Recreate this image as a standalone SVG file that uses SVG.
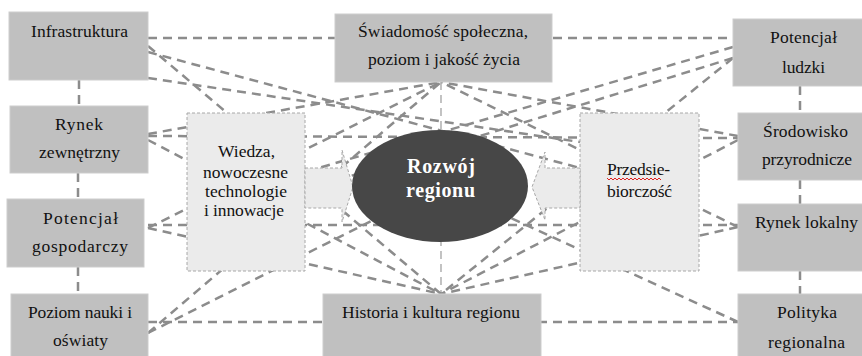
<svg xmlns="http://www.w3.org/2000/svg" width="862" height="356" viewBox="0 0 862 356">
<style>
.c{fill:none;stroke:#8c8c8c;stroke-width:2.5;stroke-dasharray:9 6}
.c2{fill:none;stroke:#b4b4b4;stroke-width:1.6;stroke-dasharray:8 5}
.box{fill:#c0c0c0;stroke:#cdcdcd;stroke-width:1}
.lb{fill:#ebebeb;stroke:#a8a8a8;stroke-width:1;stroke-dasharray:3 2}
.t{font-family:'Liberation Serif','DejaVu Serif',serif;font-size:17.5px;fill:#111;text-anchor:middle}
.w{font-family:'Liberation Serif','DejaVu Serif',serif;fill:#fff;font-weight:bold;font-size:20px;text-anchor:middle}
</style>
<rect width="862" height="356" fill="#fff"/>
<g id="connectors">
<path class="c" d="M148 38H734"/>
<path class="c" d="M148 322H738"/>
<path class="c2" d="M441 82V294"/>
<path class="c" d="M79 80V106M78 173V199M78 267V294"/>
<path class="c" d="M800 86V113M800 180V204M800 271V294"/>
<path class="c" d="M148 136L738 138"/>
<path class="c" d="M148 225L738 225"/>
<path class="c" d="M148 46L441 294"/>
<path class="c" d="M148 52L580 168"/>
<path class="c" d="M148 78L580 142"/>
<path class="c" d="M733 47L305 172"/>
<path class="c" d="M733 58L305 190"/>
<path class="c" d="M733 58L441 294"/>
<path class="c" d="M148 134L441 82"/>
<path class="c" d="M148 140L441 294"/>
<path class="c" d="M738 136L441 82"/>
<path class="c" d="M738 140L441 294"/>
<path class="c" d="M148 228L441 82"/>
<path class="c" d="M148 228L441 294"/>
<path class="c" d="M738 227L441 82"/>
<path class="c" d="M738 227L441 294"/>
<path class="c" d="M148 333L441 82"/>
<path class="c" d="M148 333L441 186"/>
<path class="c" d="M738 322L441 186"/>
</g>
<g id="infrastruktura"><rect class="box" x="9" y="12" width="139" height="68"/><text class="t" x="79.5" y="37" textLength="97">Infrastruktura</text></g>
<g id="rynek-zewnetrzny"><rect class="box" x="10" y="106" width="138" height="67"/><text class="t" x="79" y="130" textLength="48">Rynek</text><text class="t" x="79.5" y="158" textLength="81">zewnętrzny</text></g>
<g id="potencjal-gospodarczy"><rect class="box" x="7" y="199" width="137" height="68"/><text class="t" x="80.5" y="224" textLength="75">Potencjał</text><text class="t" x="80" y="252" textLength="96">gospodarczy</text></g>
<g id="poziom-nauki"><rect class="box" x="11" y="294" width="137" height="64"/><text class="t" x="80" y="318" textLength="104">Poziom nauki i</text><text class="t" x="80.5" y="346" textLength="55">oświaty</text></g>
<g id="swiadomosc"><rect class="box" x="335" y="14" width="217" height="68"/><text class="t" x="443" y="37" textLength="170">Świadomość społeczna,</text><text class="t" x="444" y="65" textLength="152">poziom i jakość życia</text></g>
<g id="historia"><rect class="box" x="323" y="294" width="218" height="64"/><text class="t" x="431" y="318" textLength="178">Historia i kultura regionu</text></g>
<g id="potencjal-ludzki"><rect class="box" x="733" y="19" width="131" height="67"/><text class="t" x="803.5" y="43" textLength="67">Potencjał</text><text class="t" x="803.5" y="73" textLength="43">ludzki</text></g>
<g id="srodowisko"><rect class="box" x="738" y="113" width="126" height="67"/><text class="t" x="805.5" y="137" textLength="85">Środowisko</text><text class="t" x="807" y="165" textLength="90">przyrodnicze</text></g>
<g id="rynek-lokalny"><rect class="box" x="738" y="204" width="126" height="67"/><text class="t" x="806.5" y="228" textLength="103">Rynek lokalny</text></g>
<g id="polityka"><rect class="box" x="738" y="294" width="126" height="64"/><text class="t" x="807" y="318" textLength="60">Polityka</text><text class="t" x="806.5" y="348" textLength="77">regionalna</text></g>
<g id="wiedza"><rect class="lb" x="187" y="113" width="118" height="158"/><text class="t" x="246.5" y="157" textLength="57">Wiedza,</text><text class="t" x="245.5" y="178" textLength="85">nowoczesne</text><text class="t" x="246" y="197" textLength="82">technologie</text><text class="t" x="244" y="216" textLength="80">i innowacje</text></g>
<g id="przedsiebiorczosc"><rect class="lb" x="580" y="113" width="119" height="158"/><text class="t" x="638.5" y="175" textLength="63">Przedsie-</text><text class="t" x="639.5" y="197" textLength="65">biorczość</text><polyline fill="none" stroke="#e02020" stroke-width="1" points="607,178 609,180 611,178 613,180 615,178 617,180 619,178 621,180 623,178 625,180 627,178 629,180 631,178 633,180 635,178 637,180 639,178 641,180 643,178 645,180 647,178 649,180 651,178 653,180 655,178 657,180 659,178 661,180"/></g>
<g id="arrow-left"><polygon class="lb" points="305,168 342,168 342,150 353,187 342,222 342,208 305,208"/></g>
<g id="arrow-right"><polygon class="lb" points="580,168 545,168 545,152 532,187 545,220 545,208 580,208"/></g>
<g id="rozwoj"><ellipse cx="440" cy="186" rx="88" ry="56" fill="#474747"/><text class="w" x="441" y="173" textLength="68">Rozwój</text><text class="w" x="440.5" y="197" textLength="69">regionu</text></g>
</svg>
